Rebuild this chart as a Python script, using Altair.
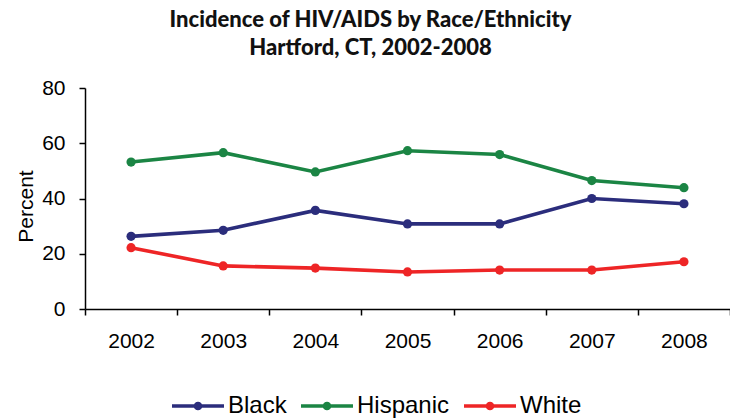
import altair as alt
import pandas as pd

years = ["2002", "2003", "2004", "2005", "2006", "2007", "2008"]
black = [26.3, 28.5, 35.7, 30.8, 30.8, 40.0, 38.1]
hispanic = [53.2, 56.6, 49.6, 57.3, 55.9, 46.5, 43.9]
white = [22.2, 15.6, 14.8, 13.4, 14.1, 14.1, 17.1]

groups = ["Black", "Hispanic", "White"]
colors = ["#2B2D7C", "#1B8544", "#EE2526"]

rows = []
for name, values in zip(groups, [black, hispanic, white]):
    for yr, v in zip(years, values):
        rows.append({"Year": yr, "Group": name, "Percent": v})
df = pd.DataFrame(rows)

# legend key: a short line with a small dot in the middle
key_path = "M-1,0L1,0M0.1,0A0.1,0.1,0,1,1,-0.1,0A0.1,0.1,0,1,1,0.1,0Z"

x_enc = alt.X(
    "Year:O",
    sort=years,
    bandPosition=0.5,
    scale=alt.Scale(type="band", paddingInner=0, paddingOuter=0),
    axis=alt.Axis(
        title=None, labelAngle=0, tickBand="extent", tickSize=6,
        labelPadding=15, labelFontSize=21,
    ),
)
y_enc = alt.Y(
    "Percent:Q",
    scale=alt.Scale(domain=[0, 80], nice=False),
    axis=alt.Axis(
        values=[0, 20, 40, 60, 80], tickSize=6, labelPadding=14,
        labelFontSize=21, title="Percent", titleFontSize=21,
        titleFontWeight="normal", titlePadding=5, titleY=118, grid=False,
    ),
)
color_enc = alt.Color(
    "Group:N",
    sort=groups,
    scale=alt.Scale(domain=groups, range=colors),
    legend=alt.Legend(
        title=None, orient="none", direction="horizontal",
        legendX=85, legendY=290,
        symbolType=key_path, symbolSize=2704, symbolStrokeWidth=3.5,
        labelFontSize=24, labelOffset=2, columnPadding=7,
    ),
)

lines = alt.Chart(df).mark_line(strokeWidth=3.6).encode(
    x=x_enc, y=y_enc, color=color_enc
)
points = alt.Chart(df).mark_point(filled=True, size=85, opacity=1).encode(
    x=x_enc, y=y_enc, color=color_enc
)

chart = (
    alt.layer(lines, points)
    .properties(
        width=645,
        height=221,
        autosize=alt.AutoSizeParams(type="none"),
        padding={"left": 85, "top": 88, "right": 0, "bottom": 110},
        title=alt.TitleParams(
            text=["Incidence of HIV/AIDS by Race/Ethnicity", "Hartford, CT, 2002-2008"],
            font="Lato", fontSize=22, fontWeight=900, color="#111111",
            anchor="middle", dx=-37, offset=17, lineHeight=28,
        ),
    )
    .configure_view(stroke=None)
    .configure_axis(
        labelFont="Liberation Sans", titleFont="Liberation Sans",
        labelColor="#000000", titleColor="#000000",
        domainColor="#000000", tickColor="#000000", domainWidth=1.5, tickWidth=1.5,
    )
    .configure_legend(labelFont="Liberation Sans", labelColor="#000000")
)

chart.save("out.html", embed_options={"renderer": "svg", "actions": False})
